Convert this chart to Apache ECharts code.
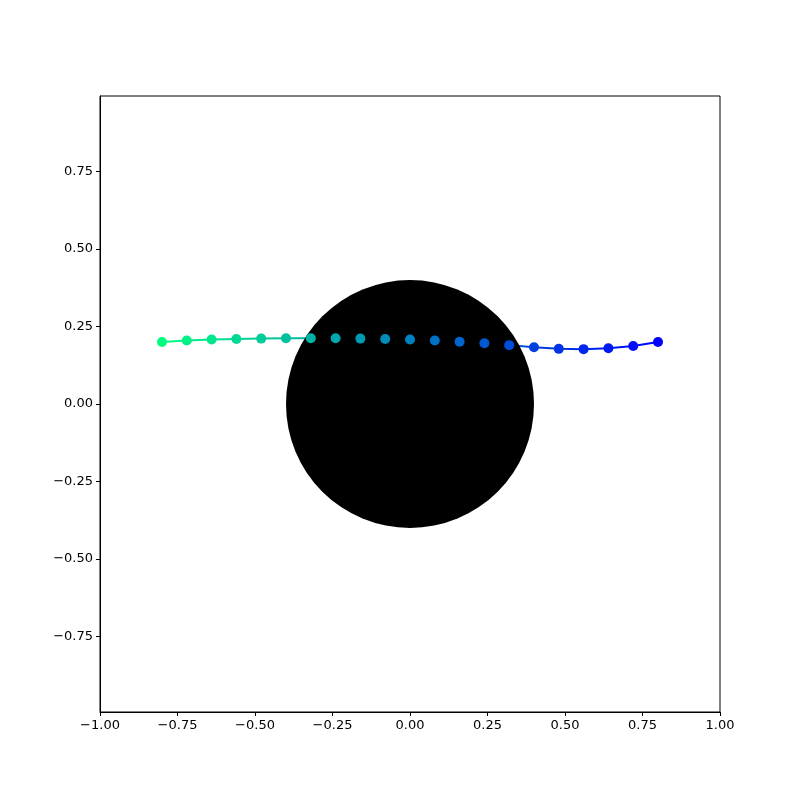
<!DOCTYPE html>
<html>
<head>
<meta charset="utf-8">
<script src="https://cdn.jsdelivr.net/npm/echarts@6/dist/echarts.min.js"></script>
<style>
  html, body { margin: 0; padding: 0; background: #fff; }
  #chart { width: 800px; height: 800px; }
</style>
</head>
<body>
<div id="chart"></div>
<script>
// data
const xValues = [-0.8, -0.72, -0.64, -0.56, -0.48, -0.4, -0.32, -0.24, -0.16, -0.08, 0,
  0.08, 0.16, 0.24, 0.32, 0.4, 0.48, 0.56, 0.64, 0.72, 0.8]
const yValues = [0.200, 0.205, 0.208, 0.210, 0.211, 0.212, 0.212, 0.212, 0.211, 0.210, 0.208,
  0.205, 0.201, 0.196, 0.190, 0.183, 0.178, 0.177, 0.180, 0.187, 0.200]
const circle = [0, 0, 0.4] // centre x, centre y, radius
const xTicks = [-1, -0.75, -0.5, -0.25, 0, 0.25, 0.5, 0.75, 1]
const yTicks = [-0.75, -0.5, -0.25, 0, 0.25, 0.5, 0.75]

// winter colormap, reversed: green on the left, blue on the right
function winterColor(i) {
  const t = 1 - i / (xValues.length - 1)
  const g = Math.round(255 * t)
  const b = Math.round(255 * (1 - 0.5 * t))
  return `rgb(0,${g},${b})`
}

const points = xValues.map((x, i) => [x, yValues[i]])
const fmt = v => v.toFixed(2).replace('-', '\u2212')
const font = 'DejaVu Sans'

const chart = echarts.init(document.getElementById('chart'))
chart.setOption({
  animation: false,
  grid: {
    left: 100, right: 80, top: 96, bottom: 88,
    show: true, borderColor: '#000', borderWidth: 1
  },
  xAxis: {
    type: 'value', min: -1, max: 1,
    splitLine: { show: false },
    axisLine: { show: true, onZero: false, lineStyle: { color: '#000' } },
    axisTick: { show: true, length: 4, customValues: xTicks, lineStyle: { color: '#000' } },
    axisLabel: { customValues: xTicks, formatter: fmt, color: '#000', fontSize: 13, fontFamily: font, margin: 7 }
  },
  yAxis: {
    type: 'value', min: -0.994, max: 0.994,
    splitLine: { show: false },
    axisLine: { show: true, onZero: false, lineStyle: { color: '#000' } },
    axisTick: { show: true, length: 4, customValues: yTicks, lineStyle: { color: '#000' } },
    axisLabel: { customValues: yTicks, formatter: fmt, color: '#000', fontSize: 13, fontFamily: font, margin: 7 }
  },
  series: [
    {
      type: 'line',
      data: points,
      symbol: 'none',
      z: 1,
      lineStyle: {
        width: 2,
        color: new echarts.graphic.LinearGradient(0, 0, 1, 0, [
          { offset: 0, color: winterColor(0) },
          { offset: 1, color: winterColor(xValues.length - 1) }
        ])
      }
    },
    {
      type: 'custom',
      data: [circle],
      z: 2,
      renderItem: (params, api) => {
        const c = api.coord([api.value(0), api.value(1)])
        const r = api.size([api.value(2), 0])[0]
        return { type: 'circle', shape: { cx: c[0], cy: c[1], r: r }, style: { fill: '#000' } }
      }
    },
    {
      type: 'scatter',
      data: points,
      symbolSize: 10,
      z: 3,
      itemStyle: { color: p => winterColor(p.dataIndex), opacity: 1 }
    }
  ]
})
</script>
</body>
</html>
